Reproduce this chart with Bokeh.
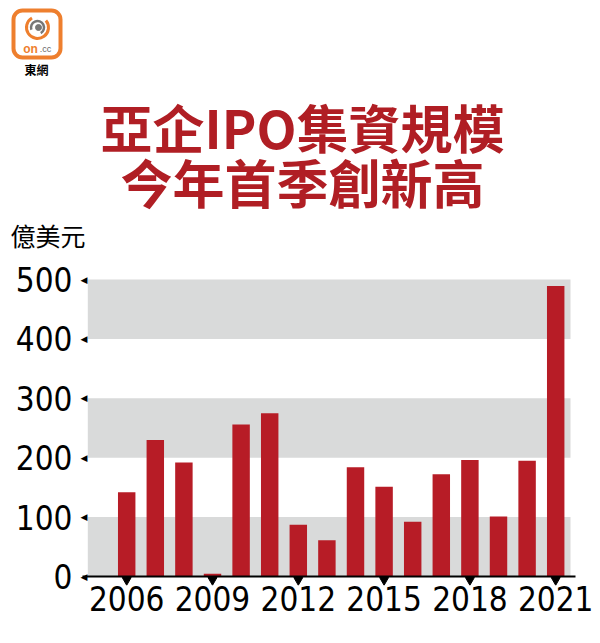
import math
from bokeh.plotting import figure
from bokeh.models import Range1d, FixedTicker
from bokeh.layouts import column
from bokeh.embed import file_html
from bokeh.resources import INLINE
from bokeh.core.properties import value

# ---- data ----
years = list(range(2006, 2022))
ipo_bn_usd = [142, 230, 192, 4.5, 256, 275, 87, 61, 184, 151, 92, 172, 196, 101, 195, 489]
y_ticks = [0, 100, 200, 300, 400, 500]
x_ticks = [2006, 2009, 2012, 2015, 2018, 2021]
band_bottoms = [0, 200, 400]
band_tops = [100, 300, 500]
title_lines = ["亞企IPO集資規模", "今年首季創新高"]
unit_label = "億美元"
logo_text = "東網"

# ---- styles ----
RED_BAR = "#B71C26"
RED_TITLE = "#B01E24"
GREY_BAND = "#D9DADA"
ORANGE = "#EE7F2E"
NUM_FONT = "'DejaVu Sans Condensed', 'Liberation Sans Narrow', sans-serif"
NUM_SIZE = "33px"
CJK_FONT = "Noto Sans CJK TC"

TOP_H = 256
W, H = 600, 643

# ---- header figure (logo, title, unit) ----
top = figure(width=W, height=TOP_H, x_range=Range1d(0, W), y_range=Range1d(TOP_H, 0),
             toolbar_location=None, output_backend="svg", min_border=0,
             x_axis_type=None, y_axis_type=None, frame_align=False)
top.grid.visible = False
top.outline_line_color = None

# logo
top.quad(left=[13], right=[60], top=[10], bottom=[57], border_radius=9,
         fill_color="white", line_color=ORANGE, line_width=4)
top.arc(x=[37], y=[27], radius=11, start_angle=math.radians(120), end_angle=math.radians(400),
        line_color=ORANGE, line_width=3)
top.arc(x=[37], y=[27], radius=6.5, start_angle=math.radians(-60), end_angle=math.radians(200),
        line_color="#777777", line_width=2.5)
top.scatter(x=[38], y=[27], size=6, color="#777777")
top.text(x=[30], y=[48], text=["on"], text_font=value("Liberation Sans"), text_font_style="bold",
         text_font_size="12px", text_color=ORANGE, text_align="center", text_baseline="middle")
top.text(x=[45], y=[48], text=[".cc"], text_font=value("Liberation Sans"),
         text_font_size="9px", text_color="#666666", text_align="center", text_baseline="middle")
top.text(x=[36], y=[69], text=[logo_text], text_font=value(CJK_FONT), text_font_style="bold",
         text_font_size="12px", text_color="black", text_align="center", text_baseline="middle")

# title
top.text(x=[302, 302], y=[126, 181], text=title_lines, text_font=value(CJK_FONT),
         text_font_style="bold", text_font_size="52px", text_color=RED_TITLE,
         text_align="center", text_baseline="middle")
# unit
top.text(x=[10], y=[234], text=[unit_label], text_font=value(CJK_FONT),
         text_font_size="25px", text_color="black", text_align="left", text_baseline="middle")

# ---- chart figure ----
CH_H = H - TOP_H
FR_L, FR_R = 76, 580
FR_T, FR_B = 262, 585          # page pixels
PX_2006, PX_PER_YR = 126.2, 28.6
PX_0, PX_PER_UNIT = 576.0, 0.594

x0 = years[0] - (PX_2006 - FR_L) / PX_PER_YR
x1 = years[0] + (FR_R - PX_2006) / PX_PER_YR
y1 = (PX_0 - FR_T) / PX_PER_UNIT
y0 = -(FR_B - PX_0) / PX_PER_UNIT

p = figure(width=W, height=CH_H, x_range=Range1d(x0, x1), y_range=Range1d(y0, y1),
           toolbar_location=None, output_backend="svg",
           min_border_left=FR_L, min_border_right=W - FR_R,
           min_border_top=FR_T - TOP_H, min_border_bottom=H - FR_B, frame_align=False)
p.grid.visible = False
p.outline_line_color = None

def px_to_x(px):
    return years[0] + (px - PX_2006) / PX_PER_YR

band_l = px_to_x(87.3)
band_r = px_to_x(570)
p.quad(left=[band_l] * len(band_bottoms), right=[band_r] * len(band_bottoms),
       bottom=band_bottoms, top=band_tops, fill_color=GREY_BAND, line_color=None)

p.vbar(x=years, top=ipo_bn_usd, width=0.61, fill_color=RED_BAR, line_color=None)

# axis line at zero
p.segment(x0=[px_to_x(82)], y0=[0], x1=[px_to_x(575)], y1=[0], line_color="black", line_width=2)
# tick triangles (left-pointing on the value axis, down-pointing on the year axis)
p.text(x=[px_to_x(83.5)] * len(y_ticks), y=y_ticks, text=["◀"] * len(y_ticks),
       text_font=value("DejaVu Sans"), text_font_size="9px", text_color="black",
       text_align="center", text_baseline="middle")
p.scatter(x=x_ticks, y=[-3.6 / PX_PER_UNIT] * len(x_ticks), marker="inverted_triangle",
          size=9, color="black")

for ax in (p.xaxis[0], p.yaxis[0]):
    ax.axis_line_color = None
    ax.major_tick_line_color = None
    ax.minor_tick_line_color = None
    ax.major_tick_out = 0
    ax.major_tick_in = 0
    ax.major_label_text_font = NUM_FONT
    ax.major_label_text_font_size = NUM_SIZE
    ax.major_label_text_color = "black"
p.xaxis[0].ticker = FixedTicker(ticks=x_ticks)
p.yaxis[0].ticker = FixedTicker(ticks=y_ticks)
p.xaxis[0].major_label_standoff = 0
p.yaxis[0].major_label_standoff = 4

layout = column(top, p, spacing=0)
open("out.html", "w").write(file_html(layout, INLINE))
